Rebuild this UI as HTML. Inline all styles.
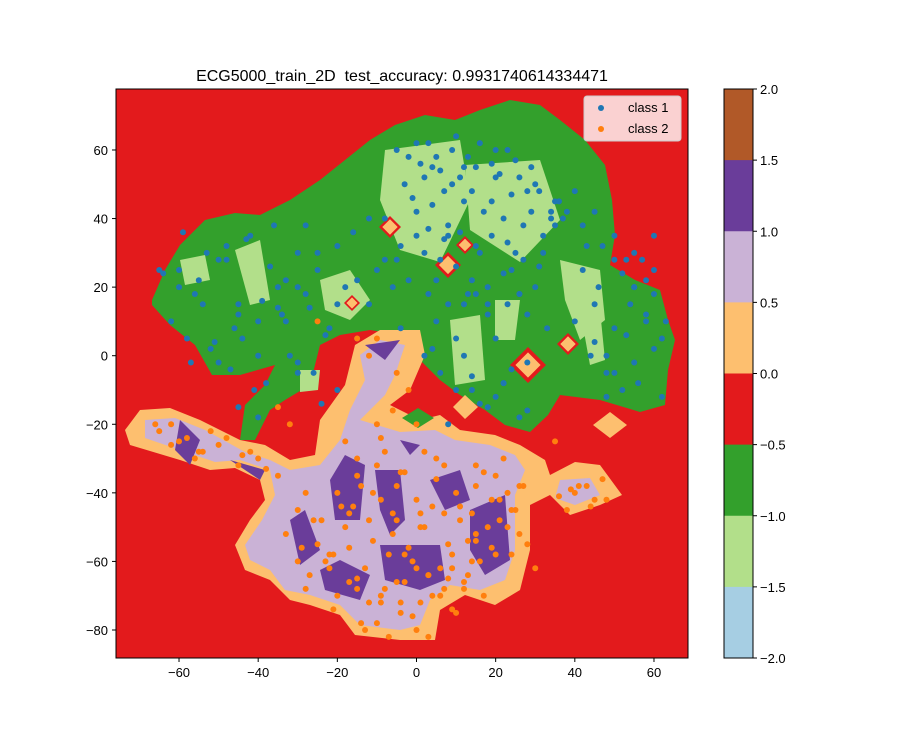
<!DOCTYPE html>
<html><head><meta charset="utf-8"><style>
body{margin:0;background:#fff;}
svg{font-family:"Liberation Sans","DejaVu Sans",sans-serif;}
</style></head><body>
<svg id="chart" width="924" height="739" xmlns="http://www.w3.org/2000/svg">
<rect width="924" height="739" fill="#fff"/>
<text x="402" y="81" font-size="16" text-anchor="middle" style="white-space:pre">ECG5000_train_2D  test_accuracy: 0.9931740614334471</text>
<defs><clipPath id="pc"><rect x="116" y="89" width="572" height="569"/></clipPath></defs>
<g id="plot" clip-path="url(#pc)"></g>
<rect x="116" y="89" width="572" height="569" fill="none" stroke="#000" stroke-width="1"/>
<g id="axes"></g>
<g id="cbar"></g>
<g>
<rect x="584" y="96" width="97" height="45" rx="3" fill="#fff" fill-opacity="0.8" stroke="#ccc"/>
<circle cx="601" cy="108" r="3" fill="#1f77b4"/>
<text x="628" y="112" font-size="13">class 1</text>
<circle cx="601" cy="129" r="3" fill="#ff7f0e"/>
<text x="628" y="133" font-size="13">class 2</text>
</g>
</svg>
<script>
const xTicks=[-60,-40,-20,0,20,40,60];
const yTicks=[60,40,20,0,-20,-40,-60,-80];
const cbTicks=["2.0","1.5","1.0","0.5","0.0","−0.5","−1.0","−1.5","−2.0"];
const cbColors=["#b15928","#6a3d9a","#cab2d6","#fdbf6f","#e31a1c","#33a02c","#b2df8a","#a6cee3"];
const class1X=[-5,0,5,10,15,20,25,30,35,-3,2,7,12,17,22,27,32,-8,0,8,16,24,32,4,12,20,28,-60,-55,-50,-45,-40,-35,-30,-25,-58,-52,-46,-40,-34,-28,-22,-62,-56,-48,-42,-36,-30,-50,-44,-38,-32,-26,-20,-15,-12,-18,-25,-28,42,46,50,54,58,62,44,48,52,56,60,40,45,50,55,60,47,53,58,2,6,10,14,18,22,26,5,12,20,28,-10,-5,5,15,25,35,38,30,8,18,-40,-45,-30,-20,-15,36,40,55,60,48,
-2,1,3,6,9,11,13,16,19,21,23,26,29,31,34,-1,4,9,14,19,24,29,34,0,3,7,11,15,19,23,27,31,-4,2,6,10,14,18,22,26,-6,-2,3,8,13,18,23,28,33,37,42,45,50,55,-65,-60,-54,-48,-43,-37,-33,-27,-23,-57,-51,-45,-39,-33,-64,-59,-53,-47,-41,-24,-20,-16,-12,-30,-35,52,57,62,45,50,55,60,43,48,53,58,63,4,10,16,22,28,8,14,20,26,-8,-4,12,24,36];
const class1Y=[60,62,58,64,55,60,57,50,45,50,52,48,45,42,40,38,35,40,42,38,30,25,30,55,55,52,48,25,22,28,15,10,20,30,25,5,2,8,0,12,18,8,10,18,32,35,38,20,-2,5,-8,0,-5,-10,5,15,20,30,38,25,20,28,15,10,5,0,-5,-10,-8,2,10,15,8,20,25,32,28,22,0,-5,5,-10,-15,-8,-18,10,15,5,-2,25,28,22,18,30,38,42,20,35,15,-18,-15,-5,15,22,45,48,20,35,-12,
58,56,62,54,60,52,58,62,56,53,60,52,55,48,42,46,44,50,48,45,47,42,40,35,37,34,36,32,35,33,28,26,32,30,28,26,22,20,24,18,20,22,18,15,18,12,15,12,8,40,38,42,35,30,25,20,15,28,34,26,22,14,6,-2,4,12,16,10,24,36,30,-4,-10,-14,32,36,40,-2,14,24,28,-12,4,-5,-2,18,32,0,6,12,10,2,-10,-14,-8,-16,-20,-6,-12,18,28,8,0,-4];
const class2X=[-65,-60,-55,-50,-45,-40,-35,-62,-52,-42,-30,-20,-15,-10,-5,0,5,10,15,20,25,-25,-18,-12,-6,2,8,14,20,26,-30,-22,-15,-8,0,8,16,24,-20,-12,-4,4,12,-10,0,10,-18,-8,5,15,22,40,45,38,43,48,-5,-12,-2,-15,-25,-35,-28,-22,-3,6,12,18,24,28,30,-26,-16,-6,4,14,-14,-4,6,35,-32,-10,0,
-58,-54,-48,-44,-38,-66,-62,-56,-28,-24,-19,-14,-9,-4,1,7,11,17,21,26,-27,-21,-17,-11,-7,-2,3,9,13,19,23,-33,-29,-23,-17,-13,-9,-5,-1,3,9,15,21,-21,-15,-9,-3,1,7,13,17,-13,-7,-1,3,9,-15,-9,-3,2,-17,-11,-5,1,7,11,15,19,23,27,41,44,47,36,39,-10,-6];
const class2Y=[-22,-25,-28,-26,-32,-30,-35,-20,-22,-28,-45,-40,-35,-32,-38,-42,-36,-40,-38,-35,-45,-55,-50,-48,-52,-50,-55,-60,-58,-52,-60,-62,-65,-68,-62,-65,-60,-58,-70,-72,-75,-70,-68,-78,-80,-75,-25,-28,-30,-32,-30,-40,-42,-45,-38,-42,-5,0,-10,5,10,-15,-68,-58,-58,-62,-66,-50,-45,-55,-62,-48,-44,-46,-44,-46,-78,-72,-70,-25,-20,5,-20,
-24,-28,-24,-29,-33,-20,-26,-30,-40,-48,-44,-38,-42,-34,-46,-32,-44,-34,-42,-38,-64,-58,-56,-54,-58,-56,-64,-62,-54,-56,-50,-52,-56,-60,-66,-62,-70,-66,-60,-64,-58,-54,-48,-74,-68,-72,-66,-72,-68,-64,-70,-80,-82,-76,-82,-74,-30,-24,-34,-28,-46,-40,-48,-50,-46,-48,-52,-42,-40,-38,-38,-44,-36,-41,-39,-20,-16];
const sx=v=>416.5+v*3.958, sy=v=>355.7-v*3.4286;
const NS="http://www.w3.org/2000/svg";
const plot=document.getElementById('plot');
function mk(t,a,p){const e=document.createElementNS(NS,t);for(const k in a)e.setAttribute(k,a[k]);(p||plot).appendChild(e);return e;}
function poly(pts,fill,name){const e=mk('polygon',{points:pts.map(p=>p.join(',')).join(' '),fill:fill});

}
const bg=mk('rect',{x:116,y:89,width:572,height:569,fill:'#e31a1c'});


poly([[152,300],[165,270],[180,245],[205,220],[235,213],[260,215],[290,200],[320,180],[345,160],[370,140],[395,125],[425,115],[455,120],[480,110],[510,100],[540,105],[560,120],[585,140],[605,165],[612,200],[615,235],[610,265],[635,280],[660,290],[668,320],[675,340],[668,370],[665,405],[640,412],[600,400],[560,395],[548,415],[530,432],[505,425],[485,410],[460,395],[440,380],[420,360],[400,335],[370,330],[340,335],[320,345],[310,385],[285,400],[270,410],[255,440],[240,440],[245,405],[265,385],[275,365],[240,375],[212,375],[195,345],[170,325],[152,305]],'#33a02c','region-green');
[[[385,150],[460,140],[470,200],[440,262],[400,250],[380,200]],[[465,165],[540,160],[560,220],[520,262],[470,230]],[[235,250],[260,240],[270,300],[250,305]],[[180,260],[205,255],[210,280],[185,285]],[[320,280],[350,270],[370,300],[350,320],[325,310]],[[560,260],[600,270],[605,320],[580,340],[565,300]],[[450,320],[480,315],[485,380],[455,385]],[[495,300],[520,300],[515,340],[495,340]],[[580,310],[600,310],[605,360],[590,365]],[[300,370],[320,370],[318,390],[300,392]]].forEach((p,i)=>poly(p,'#b2df8a','region-light-green-'+i));
poly([[125,430],[140,410],[170,408],[200,420],[240,440],[265,445],[290,460],[315,455],[320,420],[345,385],[355,345],[380,330],[420,330],[425,355],[410,390],[390,405],[420,420],[440,415],[460,430],[495,435],[520,445],[545,460],[550,475],[575,462],[600,465],[622,495],[600,505],[570,515],[550,495],[530,505],[530,550],[520,590],[495,605],[465,595],[440,610],[435,640],[400,640],[355,635],[340,615],[310,605],[290,600],[270,580],[245,570],[235,545],[250,520],[265,500],[260,480],[235,468],[210,470],[180,460],[130,445]],'#fdbf6f','region-orange');
poly([[145,420],[175,418],[205,430],[245,452],[270,460],[290,470],[320,465],[340,440],[350,410],[365,380],[360,355],[380,340],[405,345],[395,375],[385,395],[360,420],[400,432],[435,430],[455,440],[490,445],[515,455],[525,470],[515,495],[515,550],[505,580],[480,590],[450,585],[430,600],[420,625],[400,630],[360,625],[340,605],[310,595],[285,590],[270,570],[250,560],[245,545],[262,520],[275,495],[270,470],[240,460],[215,462],[180,450],[145,438]],'#cab2d6','region-light-purple');
poly([[560,480],[590,478],[600,495],[575,505],[555,498]],'#cab2d6','region-light-purple-right');
[[[330,480],[345,455],[365,465],[360,520],[335,520]],[[375,470],[400,470],[405,520],[390,535],[380,510]],[[430,480],[460,470],[470,500],[445,510]],[[470,510],[505,495],[510,560],[485,575],[470,550]],[[290,520],[305,510],[320,550],[300,565]],[[380,545],[440,545],[445,580],[420,590],[385,580]],[[320,570],[340,560],[370,575],[360,600],[325,590]],[[180,420],[200,440],[190,465],[175,450]],[[230,460],[265,470],[260,480]],[[365,345],[400,340],[385,360]],[[400,440],[420,445],[410,455]]].forEach((p,i)=>poly(p,'#6a3d9a','region-purple-'+i));
[[528,365,18],[568,344,11],[448,265,13],[390,227,11],[352,303,8],[465,245,9]].forEach((d,i)=>{poly([[d[0],d[1]-d[2]],[d[0]+d[2],d[1]],[d[0],d[1]+d[2]],[d[0]-d[2],d[1]]],'#e31a1c','red-island-'+i);poly([[d[0],d[1]-d[2]*0.7],[d[0]+d[2]*0.7,d[1]],[d[0],d[1]+d[2]*0.7],[d[0]-d[2]*0.7,d[1]]],'#fdbf6f','orange-island-'+i);});
poly([[610,412],[627,425],[610,438],[593,425]],'#fdbf6f','orange-diamond-right');
poly([[465,395],[478,407],[465,419],[453,407]],'#fdbf6f','orange-diamond-mid');
poly([[418,408],[434,418],[418,428],[402,418]],'#33a02c','green-island');
class1X.forEach((v,i)=>{const c=mk('circle',{cx:sx(v),cy:sy(class1Y[i]),r:3,fill:'#1f77b4'});

});
class2X.forEach((v,i)=>{const c=mk('circle',{cx:sx(v),cy:sy(class2Y[i]),r:3,fill:'#ff7f0e'});

});
const ax=document.getElementById('axes');
xTicks.forEach(t=>{mk('line',{x1:sx(t),x2:sx(t),y1:658,y2:662,stroke:'#000'},ax);const e=mk('text',{x:sx(t),y:677,'font-size':13,'text-anchor':'middle'},ax);e.textContent=t<0?'−'+(-t):t;

});
yTicks.forEach(t=>{mk('line',{x1:112,x2:116,y1:sy(t),y2:sy(t),stroke:'#000'},ax);const e=mk('text',{x:108,y:sy(t)+5,'font-size':13,'text-anchor':'end'},ax);e.textContent=t<0?'−'+(-t):t;

});
const cb=document.getElementById('cbar');const bh=569/cbColors.length;
cbColors.forEach((c,i)=>{const r=mk('rect',{x:724,y:89+i*bh,width:29,height:bh+0.5,fill:c},cb);

});
mk('rect',{x:724,y:89,width:29,height:569,fill:'none',stroke:'#000'},cb);
cbTicks.forEach((t,i)=>{const y=89+i*bh;mk('line',{x1:753,x2:757,y1:y,y2:y,stroke:'#000'},cb);const e=mk('text',{x:760,y:y+5,'font-size':13},cb);e.textContent=t;

});
</script>
</body></html>
